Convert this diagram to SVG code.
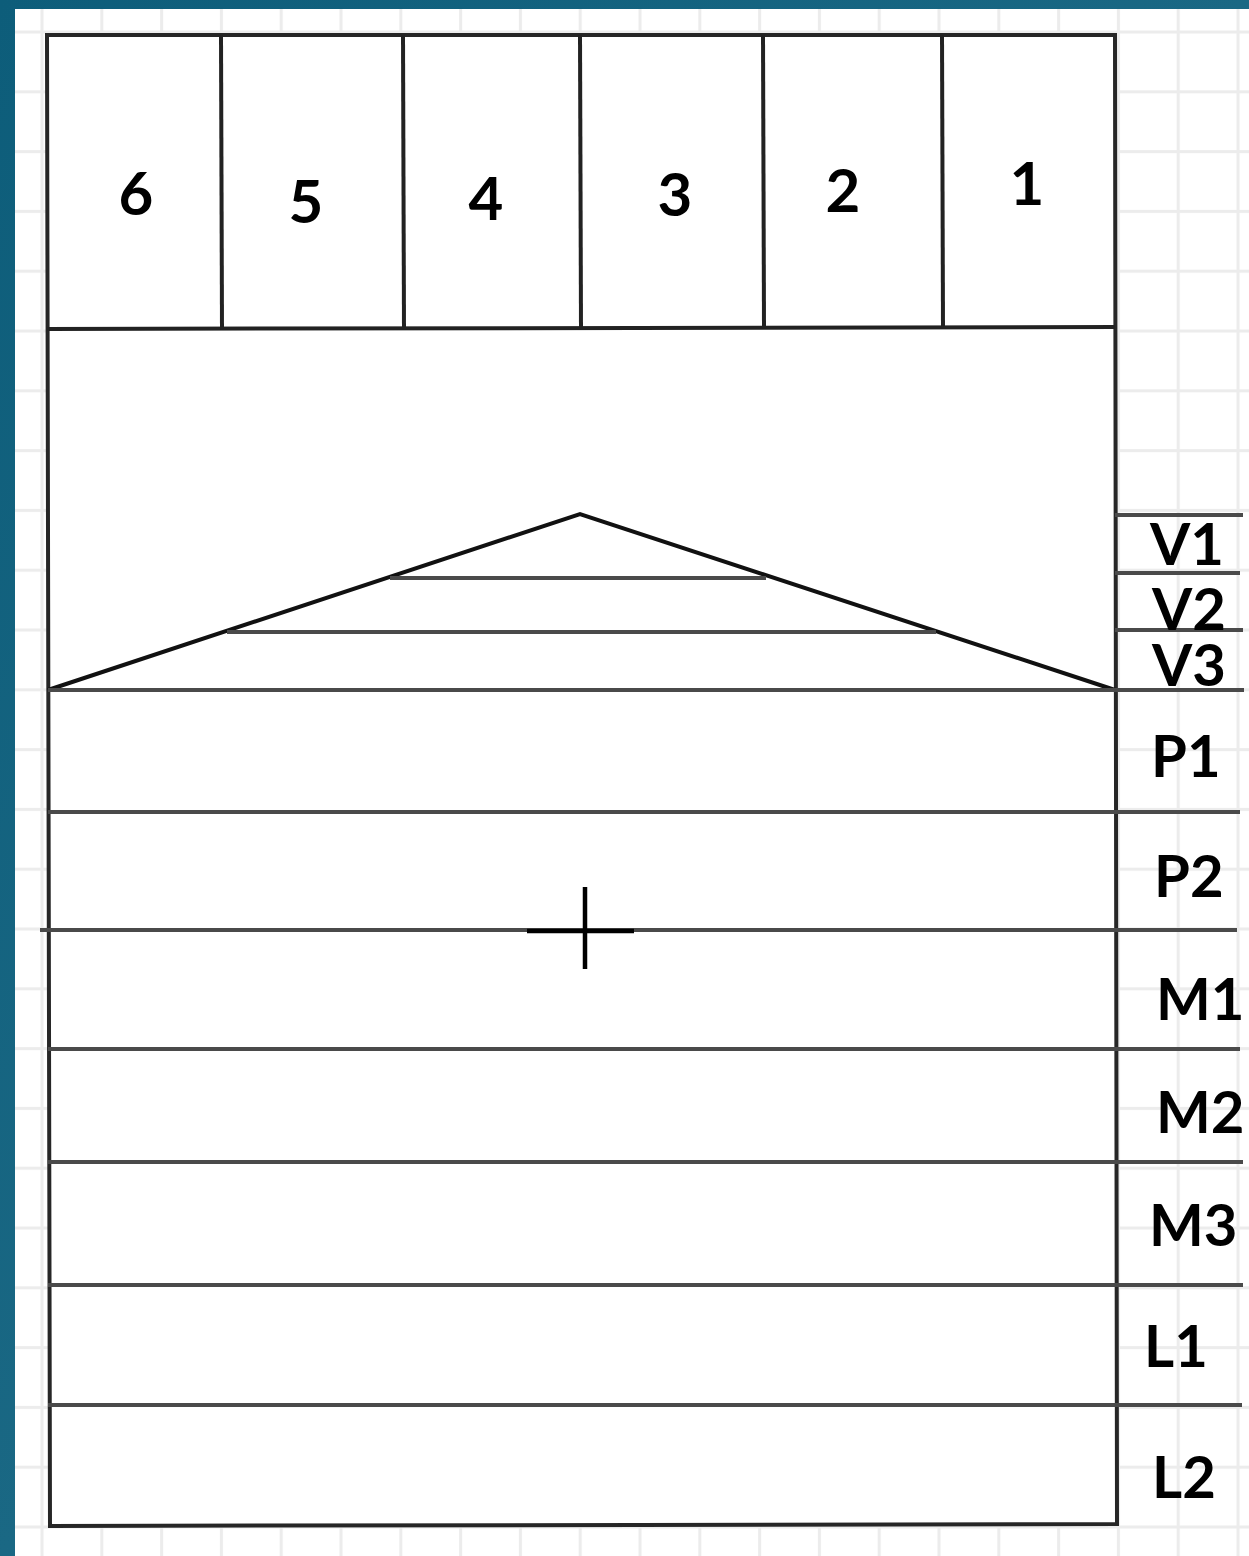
<svg xmlns="http://www.w3.org/2000/svg" width="1249" height="1556" viewBox="0 0 1249 1556">
<defs>
<linearGradient id="bg" x1="0" y1="0" x2="1" y2="1">
<stop offset="0" stop-color="#0d5d7a"/>
<stop offset="0.5" stop-color="#1a6884"/>
<stop offset="1" stop-color="#2a7690"/>
</linearGradient>
<pattern id="grid" patternUnits="userSpaceOnUse" x="40.5" y="30.5" width="59.8" height="59.8">
<rect x="0" y="0" width="59.8" height="59.8" fill="#ffffff"/>
<rect x="0" y="0" width="3" height="59.8" fill="#ececec"/>
<rect x="0" y="0" width="59.8" height="3" fill="#ececec"/>
</pattern>
<style>
.frame{fill:#ffffff;stroke:#262626;stroke-width:4}
.div{stroke:#222222;stroke-width:4;fill:none}
.row{stroke:#4a4a4a;stroke-width:4;fill:none}
.tri{stroke:#111111;stroke-width:4;fill:none;stroke-linejoin:miter}
.num{font-family:Lato,"Open Sans","Liberation Sans",sans-serif;font-weight:bold;font-size:60px;fill:#000;text-anchor:middle}
.lab{font-family:Lato,"Open Sans","Liberation Sans",sans-serif;font-weight:bold;font-size:58px;fill:#000}
</style>
</defs>
<rect x="0" y="0" width="1249" height="1556" fill="url(#bg)"/>
<rect x="15" y="9" width="1234" height="1547" fill="url(#grid)"/>

<g id="frame">
<polygon class="frame" points="47,35 1115,35 1117,1524 50,1526"/>
</g>

<g id="top-cells">
<line class="div" x1="47" y1="329" x2="1115" y2="327"/>
<line class="div" x1="221" y1="35" x2="222" y2="330"/>
<line class="div" x1="403" y1="35" x2="404" y2="330"/>
<line class="div" x1="580" y1="35" x2="581" y2="329"/>
<line class="div" x1="763" y1="35" x2="764" y2="328"/>
<line class="div" x1="942" y1="35" x2="943" y2="328"/>
</g>
<g id="cell-6"><text class="num" x="136" y="215">6</text></g>
<g id="cell-5"><text class="num" x="306" y="223">5</text></g>
<g id="cell-4"><text class="num" x="486" y="220">4</text></g>
<g id="cell-3"><text class="num" x="675" y="216">3</text></g>
<g id="cell-2"><text class="num" x="843" y="212">2</text></g>
<g id="cell-1"><text class="num" x="1027" y="205">1</text></g>

<g id="triangle">
<polyline class="tri" points="48,690 580,514 1115,690"/>
<line class="row" x1="390" y1="578" x2="766" y2="578"/>
<line class="row" x1="227" y1="632" x2="936" y2="632"/>
</g>

<g id="connectors">
<line class="row" x1="1115" y1="515" x2="1243" y2="515"/>
<line class="row" x1="1115" y1="573" x2="1240" y2="573"/>
<line class="row" x1="1115" y1="630" x2="1243" y2="630"/>
<line class="row" x1="48" y1="690" x2="1244" y2="690"/>
<line class="row" x1="48" y1="812" x2="1240" y2="812"/>
<line class="row" x1="40" y1="930" x2="1237" y2="930"/>
<line class="row" x1="48" y1="1049" x2="1240" y2="1049"/>
<line class="row" x1="48" y1="1162" x2="1243" y2="1162"/>
<line class="row" x1="48" y1="1285" x2="1243" y2="1285"/>
<line class="row" x1="48" y1="1405" x2="1242" y2="1405"/>
</g>

<g id="crosshair">
<line stroke="#000" stroke-width="4.5" x1="527" y1="931" x2="634" y2="931"/>
<line stroke="#000" stroke-width="4.5" x1="585" y1="887" x2="585" y2="969"/>
</g>

<g id="label-V1"><text class="lab" x="1150" y="565">V1</text></g>
<g id="label-V2"><text class="lab" x="1152" y="630">V2</text></g>
<g id="label-V3"><text class="lab" x="1152" y="686">V3</text></g>
<g id="label-P1"><text class="lab" x="1151" y="777">P1</text></g>
<g id="label-P2"><text class="lab" x="1154" y="897">P2</text></g>
<g id="label-M1"><text class="lab" x="1156" y="1020">M1</text></g>
<g id="label-M2"><text class="lab" x="1156" y="1133">M2</text></g>
<g id="label-M3"><text class="lab" x="1149" y="1246">M3</text></g>
<g id="label-L1"><text class="lab" x="1144" y="1367">L1</text></g>
<g id="label-L2"><text class="lab" x="1152" y="1498">L2</text></g>
</svg>
